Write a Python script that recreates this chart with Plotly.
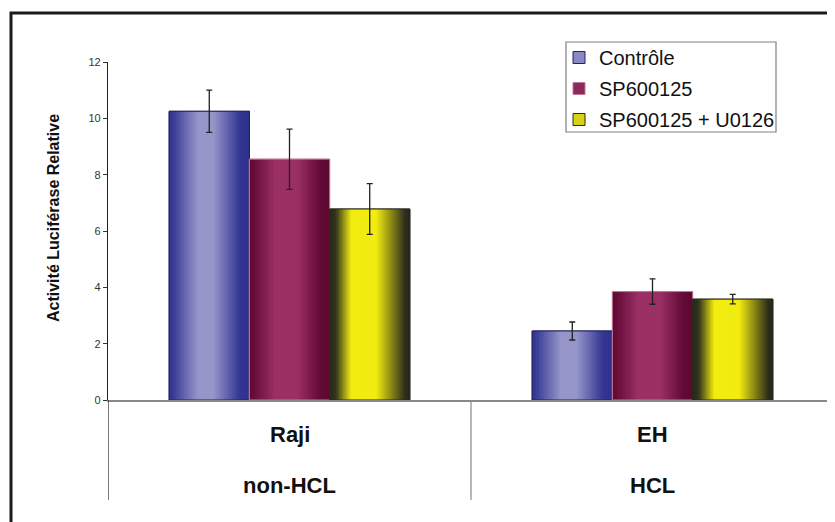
import plotly.graph_objects as go

cell_lines = ["Raji", "EH"]
cell_groups = ["non-HCL", "HCL"]
series_names = ["Contrôle", "SP600125", "SP600125 + U0126"]
controle = [10.25, 2.45]
controle_err = [0.75, 0.32]
sp600125 = [8.55, 3.85]
sp600125_err = [1.07, 0.45]
sp_u0126 = [6.78, 3.58]
sp_u0126_err = [0.90, 0.17]

values = [controle, sp600125, sp_u0126]
errors = [controle_err, sp600125_err, sp_u0126_err]

# gradient stops across each bar (position, rgb), dark edges -> light middle
gradients = [
    [(0.0, (48, 50, 146)), (0.06, (60, 62, 152)), (0.36, (150, 150, 202)), (0.55, (150, 150, 202)),
     (0.88, (52, 54, 148)), (1.0, (46, 48, 140))],
    [(0.0, (96, 8, 50)), (0.06, (104, 14, 58)), (0.32, (155, 48, 100)), (0.6, (155, 48, 100)),
     (0.88, (100, 10, 55)), (1.0, (94, 8, 48))],
    [(0.0, (36, 38, 28)), (0.08, (52, 54, 28)), (0.27, (242, 236, 16)), (0.58, (242, 236, 16)),
     (0.94, (44, 46, 28)), (1.0, (36, 38, 28))],
]
mid_colors = ["#8a89c4", "#8c2a5c", "#d8d214"]
outline_colors = ["#23245e", "#c07898", "#2a2d1e"]

n_stripes = 60
bar_w = 0.221
group_left = -1.5 * bar_w

# page body has an 8px margin, so the figure is drawn 8px smaller and
# every pixel position below is (reference pixel - 8)
W, H = 827, 514
L, R, T, B = 100, 1, 54, 122
PW, PH = W - L - R, H - T - B


def px_x(x):
    return (x - L) / PW


def px_y(y):
    return (H - B - y) / PH


def color_at(stops, t):
    for (p0, c0), (p1, c1) in zip(stops[:-1], stops[1:]):
        if p0 <= t <= p1:
            f = (t - p0) / (p1 - p0) if p1 > p0 else 0
            c = [round(a + (b - a) * f) for a, b in zip(c0, c1)]
            return "rgb(%d,%d,%d)" % tuple(c)
    return "rgb(%d,%d,%d)" % stops[-1][1]


fig = go.Figure()

for s, name in enumerate(series_names):
    left = group_left + s * bar_w
    # legend / base bar
    fig.add_trace(go.Bar(
        x=cell_lines, y=values[s], name=name, legendgroup=name,
        width=bar_w, offset=left,
        marker=dict(color=mid_colors[s], line=dict(color=outline_colors[s], width=1)),
        hoverinfo="skip",
    ))
    sw = bar_w / n_stripes
    for i in range(n_stripes):
        t = (i + 0.5) / n_stripes
        fig.add_trace(go.Bar(
            x=cell_lines, y=values[s], legendgroup=name, showlegend=False,
            width=sw * 1.5 if i < n_stripes - 1 else sw, offset=left + i * sw,
            marker=dict(color=color_at(gradients[s], t), line=dict(width=0)),
            hoverinfo="skip",
        ))
    # outline + error bars on top
    fig.add_trace(go.Bar(
        x=cell_lines, y=values[s], legendgroup=name, showlegend=False,
        width=bar_w, offset=left,
        marker=dict(color="rgba(0,0,0,0)", line=dict(color=outline_colors[s], width=1)),
        error_y=dict(type="data", array=errors[s], color="#222222", thickness=1.3, width=3),
    ))

shapes = [
    # outer frame
    dict(type="rect", xref="paper", yref="paper",
         x0=px_x(3), x1=px_x(840), y0=px_y(530), y1=px_y(5),
         line=dict(color="#1a1a1a", width=3)),
    # legend box
    dict(type="rect", xref="paper", yref="paper",
         x0=px_x(558), x1=px_x(768), y0=px_y(124), y1=px_y(34),
         line=dict(color="#808080", width=1.2), fillcolor="white", layer="below"),
    # category dividers below the axis
    dict(type="line", xref="x", yref="paper", x0=-0.5, x1=-0.5, y0=0, y1=-100 / PH,
         line=dict(color="#222222", width=1.2)),
    dict(type="line", xref="x", yref="paper", x0=0.5, x1=0.5, y0=0, y1=-100 / PH,
         line=dict(color="#888888", width=1.2)),
    dict(type="line", xref="x", yref="paper", x0=1.5, x1=1.5, y0=0, y1=-100 / PH,
         line=dict(color="#888888", width=1.2)),
]

annotations = []
for cl, grp in zip(cell_lines, cell_groups):
    annotations.append(dict(x=cl, y=px_y(426), xref="x", yref="paper", text="<b>%s</b>" % cl,
                            showarrow=False, font=dict(size=22, color="#111111"),
                            xanchor="center", yanchor="middle"))
    annotations.append(dict(x=cl, y=px_y(477), xref="x", yref="paper", text="<b>%s</b>" % grp,
                            showarrow=False, font=dict(size=22, color="#111111"),
                            xanchor="center", yanchor="middle"))
annotations.append(dict(x=px_x(45), y=px_y(210), xref="paper", yref="paper",
                        text="<b>Activité Luciférase Relative</b>", textangle=-90, showarrow=False,
                        xanchor="center", yanchor="middle",
                        font=dict(size=16, color="#111111")))

fig.update_layout(
    width=W, height=H,
    margin=dict(l=L, r=R, t=T, b=B),
    paper_bgcolor="white", plot_bgcolor="rgba(0,0,0,0)",
    barmode="overlay",
    font=dict(family="Arial, Liberation Sans, sans-serif", color="#111111"),
    showlegend=True,
    legend=dict(x=px_x(551), y=px_y(30), xanchor="left", yanchor="top",
                borderwidth=0, bgcolor="rgba(0,0,0,0)",
                font=dict(size=20, color="#111111"), tracegroupgap=2),
    shapes=shapes,
    annotations=annotations,
)
fig.update_xaxes(type="category", range=[-0.5, 1.5], showticklabels=False, ticks="",
                 showline=True, linecolor="#888888", linewidth=1.5, showgrid=False, zeroline=False)
fig.update_yaxes(range=[0, 12], dtick=2, ticks="outside", ticklen=4, tickcolor="#333333",
                 tickfont=dict(size=11, color="#333333"), showline=True, linecolor="#222222",
                 linewidth=1.2, showgrid=False, zeroline=False)

fig.write_html("out.html")
